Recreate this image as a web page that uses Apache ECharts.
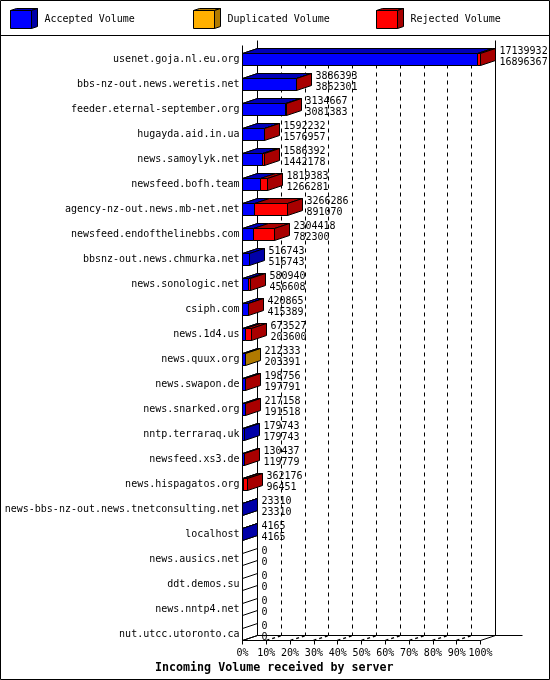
<!DOCTYPE html>
<html>
<head>
<meta charset="utf-8">
<style>html,body{margin:0;padding:0;background:#fff}#c{width:550px;height:680px}</style>
<script src="https://cdn.jsdelivr.net/npm/echarts@6/dist/echarts.min.js"></script>
</head>
<body>
<div id="c"></div>
<script>
var servers = ['usenet.goja.nl.eu.org','bbs-nz-out.news.weretis.net','feeder.eternal-september.org','hugayda.aid.in.ua','news.samoylyk.net','newsfeed.bofh.team','agency-nz-out.news.mb-net.net','newsfeed.endofthelinebbs.com','bbsnz-out.news.chmurka.net','news.sonologic.net','csiph.com','news.1d4.us','news.quux.org','news.swapon.de','news.snarked.org','nntp.terraraq.uk','newsfeed.xs3.de','news.hispagatos.org','news-bbs-nz-out.news.tnetconsulting.net','localhost','news.ausics.net','ddt.demos.su','news.nntp4.net','nut.utcc.utoronto.ca'];
var totalVolume = [17139932,3886393,3134667,1592232,1586392,1819383,3266286,2304418,516743,580940,420865,673527,212333,198756,217158,179743,130437,362176,23310,4165,0,0,0,0];
var acceptedVolume = [16896367,3862301,3081383,1576957,1442178,1266281,891070,782300,516743,456608,415389,203600,203391,197791,191518,179743,119779,96451,23310,4165,0,0,0,0];
var duplicatedVolume = [0,0,0,0,0,0,0,0,0,0,0,0,8942,0,0,0,0,0,0,0,0,0,0,0];
var rejectedVolume = [243565,24092,53284,15275,144214,553102,2375216,1522118,0,124332,5476,469927,0,965,25640,0,10658,265725,0,0,0,0,0,0];
var percentTicks = [0,10,20,30,40,50,60,70,80,90,100];
var legendNames = ['Accepted Volume','Duplicated Volume','Rejected Volume'];
var titleText = 'Incoming Volume received by server';

var FONT = '"DejaVu Sans Mono", "Liberation Mono", monospace';
var DX = 15, DY = 5, HALF = 6;
var maxTotal = Math.max.apply(null, totalVolume);
var colors = [
  {front:'#0000ff', top:'#0000b8', side:'#0000a8'},
  {front:'#ffb000', top:'#b07a00', side:'#b07a00'},
  {front:'#ff0000', top:'#a80000', side:'#a80000'}
];
function crisp(v){ return Math.round(v - 0.5) + 0.5; }
function pct(v){ return v / maxTotal * 100; }

function segData(k){
  var arrs = [acceptedVolume, duplicatedVolume, rejectedVolume];
  return servers.map(function(_, i){
    var start = 0;
    for (var j = 0; j < k; j++) start += arrs[j][i];
    var end = start + arrs[k][i];
    var last = arrs[k][i] > 0;
    for (var m = k + 1; m < 3; m++) if (arrs[m][i] > 0) last = false;
    return [i, pct(start), pct(end), last ? 1 : 0];
  });
}
function renderSeg(k){
  return function(params, api){
    var a = api.value(1), b = api.value(2);
    if (b <= a) return null;
    var row = api.value(0);
    var p0 = api.coord([a, row]), p1 = api.coord([b, row]);
    var x0 = crisp(p0[0]), x1 = crisp(p1[0]);
    var t = crisp(p0[1] - HALF), m = crisp(p0[1] + HALF);
    var c = colors[k], st = {stroke:'#000', lineWidth:1};
    var kids = [
      {type:'polygon', shape:{points:[[x0,t],[x0+DX,t-DY],[x1+DX,t-DY],[x1,t]]}, style:Object.assign({fill:c.top}, st)},
      {type:'rect', shape:{x:x0,y:t,width:x1-x0,height:m-t}, style:Object.assign({fill:c.front}, st)}
    ];
    if (api.value(3)) kids.push({type:'polygon', shape:{points:[[x1,t],[x1+DX,t-DY],[x1+DX,m-DY],[x1,m]]}, style:Object.assign({fill:c.side}, st)});
    return {type:'group', children:kids};
  };
}
function renderFrame(params, api){
  var first = api.coord([0, 0]), lastRow = api.coord([0, servers.length - 1]);
  var x0 = crisp(first[0]), floorY = crisp(lastRow[1] + HALF);
  var topF = crisp(first[1] - 14.5), x100 = crisp(api.coord([100, 0])[0]);
  var solid = {stroke:'#000', lineWidth:1}, dash = {stroke:'#000', lineWidth:1, lineDash:[4,4]};
  function line(x1,y1,x2,y2,s){ return {type:'line', shape:{x1:x1,y1:y1,x2:x2,y2:y2}, style:s}; }
  var kids = [
    line(x0, topF, x0, floorY, solid),
    line(x0+DX, topF-DY, x0+DX, floorY-DY, solid),
    line(x100+DX, topF-DY, x100+DX, floorY-DY, solid),
    line(x0+DX, floorY-DY, x100+DX+27, floorY-DY, solid),
    line(x0, floorY, x0+DX, floorY-DY, solid),
    line(x100, floorY, x100+DX, floorY-DY, solid)
  ];
  percentTicks.slice(1, -1).forEach(function(tk){
    var x = crisp(api.coord([tk, 0])[0]);
    kids.push(line(x+DX, first[1]-11, x+DX, floorY-DY, dash));
    kids.push(line(x, floorY, x+DX, floorY-DY, {stroke:'#000', lineWidth:1.5, lineDash:[3,3]}));
  });
  servers.forEach(function(_, i){
    var c = api.coord([0, i])[1];
    var t = crisp(c - HALF), m = crisp(c + HALF);
    kids.push(line(x0, t, x0+DX, t-DY, solid));
    kids.push(line(x0, m, x0+DX, m-DY, solid));
  });
  return {type:'group', children:kids};
}
function renderLabels(params, api){
  var row = api.value(0);
  var p = api.coord([api.value(1), row]);
  var x = crisp(p[0]) + DX + 4;
  function t(txt, y){ return {type:'text', style:{text:txt, x:x, y:y, font:'10px ' + FONT, fill:'#000', align:'left', verticalAlign:'middle'}}; }
  return {type:'group', children:[t(String(totalVolume[row]), p[1]-8.5), t(String(acceptedVolume[row]), p[1]+2.5)]};
}
function legendFaces(x, c){
  var L = x + 21, T = 10.5, B = 28.5;
  var s = function(f){ return {fill:f, stroke:'#000', lineWidth:1}; };
  return [
    {type:'polygon', z:120, shape:{points:[[x,T],[x+6,T-2],[L+6,T-2],[L,T]]}, style:s(c.top)},
    {type:'polygon', z:120, shape:{points:[[L,T],[L+6,T-2],[L+6,B-2],[L,B]]}, style:s(c.side)}
  ];
}

var chart = echarts.init(document.getElementById('c'), null, {renderer:'canvas', width:550, height:680});
var legendLefts = [10, 193, 376];
chart.setOption({
  animation:false,
  backgroundColor:'#fff',
  title:{text:titleText, left:155, top:661.5, padding:0, textStyle:{fontFamily:FONT, fontWeight:'bold', fontSize:11.67, color:'#000'}},
  legend: legendNames.map(function(n, i){
    return {data:[{name:n, icon:'rect'}], left:legendLefts[i], top:10, padding:0, itemWidth:21, itemHeight:18, selectedMode:false,
      itemStyle:{borderColor:'#000', borderWidth:1, color:colors[i].front},
      textStyle:{fontFamily:FONT, fontSize:10, color:'#000', padding:[0,0,0,8]}};
  }),
  grid:{left:242.5, right:69.5, top:47, bottom:33, containLabel:false},
  xAxis:{type:'value', min:0, max:100, interval:10, offset:-6.5,
    axisLine:{show:true, lineStyle:{color:'#000', width:1}},
    axisTick:{show:true, length:4, lineStyle:{color:'#000', width:1}},
    splitLine:{show:false},
    axisLabel:{formatter:'{value}%', margin:8, fontFamily:FONT, fontSize:10, color:'#000', hideOverlap:false, showMinLabel:true, showMaxLabel:true}
  },
  yAxis:{type:'category', inverse:true, data:servers,
    axisLine:{show:false}, axisTick:{show:false}, splitLine:{show:false},
    axisLabel:{interval:0, margin:3, padding:[2,0,0,0], fontFamily:FONT, fontSize:10, color:'#000', hideOverlap:false}
  },
  series:[
    {type:'custom', name:'frame', silent:true, z:1, renderItem:renderFrame, data:[[0]], encode:{y:0}}
  ].concat(legendNames.map(function(n, k){
    return {type:'custom', name:n, z:3, silent:true, renderItem:renderSeg(k), data:segData(k), encode:{x:[1,2], y:0}, itemStyle:{color:colors[k].front}};
  })).concat([
    {type:'custom', name:'values', z:4, silent:true, renderItem:renderLabels,
     data:servers.map(function(_, i){ return [i, pct(totalVolume[i])]; }), encode:{x:1, y:0}}
  ]),
  graphic:[
    {type:'rect', z:100, silent:true, shape:{x:0.5,y:0.5,width:549,height:679}, style:{fill:null, stroke:'#000', lineWidth:1}},
    {type:'line', z:100, silent:true, shape:{x1:0,y1:35.5,x2:550,y2:35.5}, style:{stroke:'#000', lineWidth:1}}
  ].concat(legendFaces(10.5, colors[0]), legendFaces(193.5, colors[1]), legendFaces(376.5, colors[2]))
});
</script>
</body>
</html>
